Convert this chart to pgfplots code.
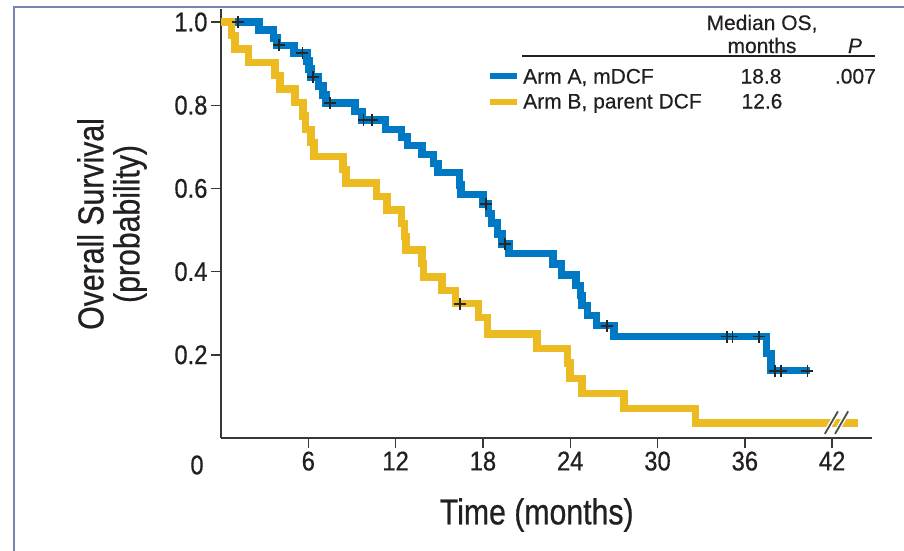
\documentclass[border=0pt]{standalone}
\usepackage{pgfplots}
\pgfplotsset{compat=1.18}
\usepackage{fontspec}
\setmainfont{Liberation Sans}
\newfontfamily\narrowfont[FakeStretch=0.84,FakeBold=0.6]{Liberation Sans}
\newfontfamily\ticknarrow[FakeStretch=0.88,FakeBold=0.5]{Liberation Sans}
\newfontfamily\legfont[FakeBold=0.35]{Liberation Sans}
\definecolor{armA}{RGB}{0,121,196}
\definecolor{armB}{RGB}{235,187,33}
\definecolor{framecol}{RGB}{122,132,178}
\definecolor{axiscol}{RGB}{55,55,55}
\definecolor{txt}{RGB}{35,31,32}
\begin{document}
\begin{tikzpicture}
\useasboundingbox (-221pt,-112pt) rectangle (683pt,438pt);
\draw[framecol, line width=1.6pt] (-207pt,-115pt) -- (-207pt,431pt) -- (690pt,431pt);
\begin{axis}[
  scale only axis, width=651pt, height=429pt,
  xmin=0, xmax=44.74, ymin=0, ymax=1.03125,
  axis x line*=bottom, axis y line*=left,
  axis line style={line width=1.6pt, color=axiscol},
  xtick={6,12,18,24,30,36,42}, ytick={0.2,0.4,0.6,0.8,1.0},
  tick align=outside, major tick length=10pt,
  tick style={line width=1.4pt, color=axiscol},
  ticklabel style={font=\ticknarrow\fontsize{27}{27}\selectfont, text=txt},
  /pgf/number format/assume math mode=true,
  yticklabel style={/pgf/number format/.cd, fixed, fixed zerofill, precision=1},
  xticklabel style={/pgf/number format/.cd, fixed, precision=0},
  xlabel={Time (months)},
  xlabel style={at={(axis description cs:0.485,0)}, anchor=center, yshift=-77pt, font=\narrowfont\fontsize{36}{36}\selectfont, text=txt},
  ylabel={Overall Survival\\(probability)},
  ylabel style={at={(axis description cs:-0.1674,0.499)}, anchor=center, align=center, font=\narrowfont\fontsize{36}{36}\selectfont, text=txt},
]
\addplot[const plot, armA, line width=7.5pt, line join=miter] coordinates {
(0,1.0) (2.6,0.981) (3.6,0.962) (3.85,0.944) (5.0,0.925) (5.9,0.906) (6.05,0.887) (6.2,0.868) (6.7,0.846) (7.0,0.825) (7.2,0.805) (9.2,0.785) (9.7,0.764) (11.3,0.742) (12.4,0.723) (12.8,0.703) (13.8,0.681) (14.6,0.66) (14.9,0.638) (16.4,0.608) (16.5,0.585) (18.0,0.562) (18.4,0.54) (18.6,0.517) (19.0,0.49) (19.3,0.466) (19.8,0.444) (22.8,0.418) (23.4,0.392) (24.4,0.366) (24.7,0.342) (24.8,0.318) (25.2,0.295) (25.8,0.27) (27.0,0.244) (37.5,0.203) (37.8,0.162) (40.5,0.162)
};
\addplot[const plot, armB, line width=7.5pt, line join=miter] coordinates {
(0,1.0) (0.73,0.968) (0.95,0.935) (1.9,0.903) (3.7,0.871) (4.05,0.839) (5.1,0.806) (5.65,0.774) (5.8,0.742) (6.2,0.71) (6.4,0.677) (8.4,0.645) (8.6,0.613) (10.7,0.581) (11.4,0.548) (12.4,0.516) (12.6,0.484) (12.7,0.452) (13.8,0.419) (13.9,0.387) (15.2,0.355) (16.1,0.323) (17.7,0.290) (18.3,0.250) (21.7,0.215) (23.8,0.180) (24.0,0.143) (24.8,0.107) (27.7,0.071) (32.6,0.036) (43.8,0.036)
};
\addplot[only marks, mark=+, mark size=6pt, mark options={line width=1.8pt, color=black!85}] coordinates {
(1.15,1.0) (4.0,0.944) (5.6,0.925) (6.3,0.868) (7.5,0.805) (9.8,0.764) (10.4,0.764) (18.2,0.562) (19.5,0.466) (26.5,0.27) (34.8,0.244) (35.15,0.244) (37.0,0.244) (38.1,0.162) (38.5,0.162) (40.3,0.162) (16.4,0.323)
};
\addplot[white, line width=4.5pt] coordinates {(41.5,0.010) (42.4,0.064)};
\addplot[white, line width=4.5pt] coordinates {(42.2,0.010) (43.1,0.064)};
\addplot[black!70, line width=1.8pt] coordinates {(41.5,0.010) (42.4,0.064)};
\addplot[black!70, line width=1.8pt] coordinates {(42.2,0.010) (43.1,0.064)};
\end{axis}
\node[font=\ticknarrow\fontsize{27}{27}\selectfont, text=txt] at (-24pt,-27pt) {0};
\begin{scope}[every node/.style={font=\legfont\fontsize{21}{21}\selectfont, text=txt, inner sep=0pt}]
\node[anchor=base] at (541pt,408pt) {Median OS,};
\node[anchor=base] at (541pt,385pt) {months};
\node[anchor=base] at (634pt,385pt) {\itshape P};
\draw[txt, line width=1.8pt] (301pt,382pt) -- (654pt,382pt);
\draw[armA, line width=6.5pt] (269pt,362pt) -- (296pt,362pt);
\node[anchor=base west] at (302pt,354.5pt) {Arm A, mDCF};
\node[anchor=base] at (540pt,354.5pt) {18.8};
\node[anchor=base east] at (655pt,354.5pt) {.007};
\draw[armB, line width=6.5pt] (269pt,336pt) -- (296pt,336pt);
\node[anchor=base west] at (302pt,329.5pt) {Arm B, parent DCF};
\node[anchor=base] at (541pt,329.5pt) {12.6};
\end{scope}
\end{tikzpicture}
\end{document}
